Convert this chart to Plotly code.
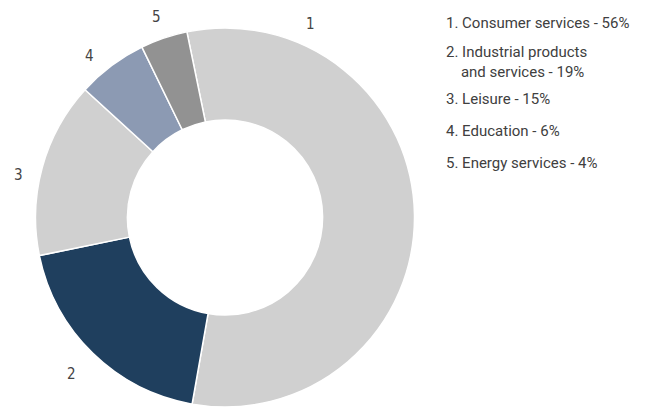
import plotly.graph_objects as go

W, H = 649, 407

# Data
slice_ids = ["1", "2", "3", "4", "5"]
sectors = ["Consumer services", "Industrial products and services", "Leisure", "Education", "Energy services"]
shares = [56, 19, 15, 6, 4]
legend_lines = [
    "1. Consumer services - 56%",
    "2. Industrial products<br>    and services - 19%",
    "3. Leisure - 15%",
    "4. Education - 6%",
    "5. Energy services - 4%",
]

colors = ["#d0d0d0", "#1f3f5e", "#d0d0d0", "#8c9ab3", "#929292"]

# pie geometry (pixels)
cx, cy, r = 225, 220, 192

fig = go.Figure(go.Pie(
    labels=sectors,
    values=shares,
    sort=False,
    direction="clockwise",
    rotation=-11.6,
    hole=0.515,
    marker=dict(colors=colors, line=dict(color="white", width=1.5)),
    textinfo="none",
    hoverinfo="label+percent",
    showlegend=False,
    domain=dict(x=[(cx - r) / W, (cx + r) / W], y=[0, (H - (cy - r)) / H]),
))

annotations = []
# slice number labels (pixel positions, centre)
label_pos = [(310, 24), (71, 374), (18, 175), (89, 56), (156, 17)]
for sid, (px, py) in zip(slice_ids, label_pos):
    annotations.append(dict(
        x=px / W, y=1 - py / H, xref="paper", yref="paper",
        text=sid, showarrow=False, xanchor="center", yanchor="middle",
        font=dict(family="Liberation Sans Narrow, DejaVu Sans Condensed, sans-serif", size=15, color="#444444"),
    ))

# legend text
legend_y = [22.5, 61.5, 99, 131, 163]
for txt, py in zip(legend_lines, legend_y):
    annotations.append(dict(
        x=444 / W, y=1 - py / H, xref="paper", yref="paper",
        text=txt.replace("    ", "&nbsp;&nbsp;&nbsp;&nbsp;"), showarrow=False, xanchor="left", yanchor="middle", align="left",
        font=dict(family="Roboto, sans-serif", size=15, color="#404040"),
    ))

fig.update_layout(
    width=W, height=H,
    margin=dict(l=0, r=0, t=0, b=0),
    paper_bgcolor="white", plot_bgcolor="white",
    annotations=annotations,
)

fig.write_html("out.html")
